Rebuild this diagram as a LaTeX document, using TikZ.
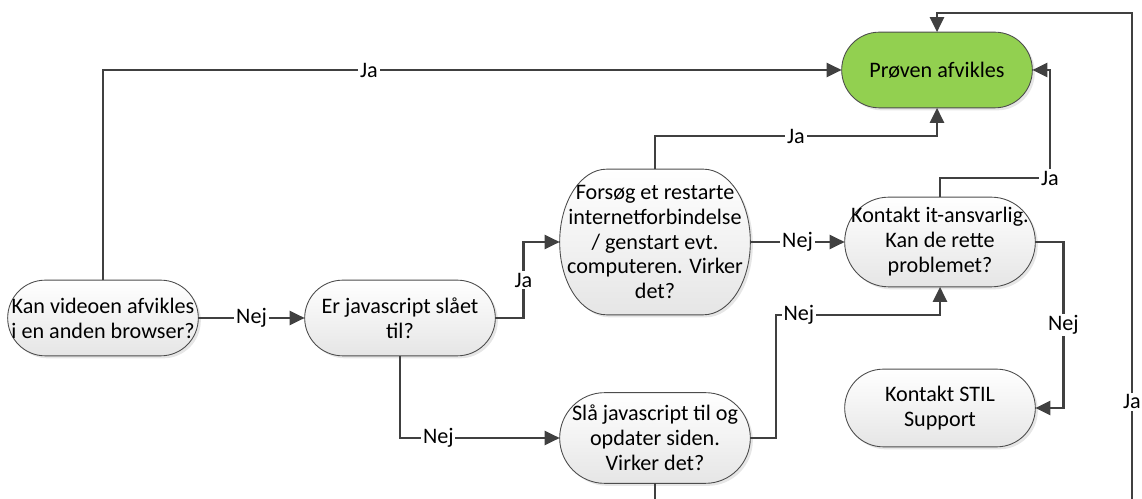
\documentclass[tikz,border=0pt]{standalone}
\usepackage{fontspec}
\setmainfont{Carlito}
\usepackage{xcolor}
\usetikzlibrary{positioning}
\usetikzlibrary{arrows.meta,shadows,calc}
\definecolor{passgreen}{RGB}{146,208,80}
\definecolor{linegray}{RGB}{64,64,64}
\pgfdeclarelayer{background}
\pgfsetlayers{background,main}

% outline of a terminator box behind node #2, end bulge #3
\newcommand{\terminator}[3][]{%
  \path[termbg,#1] let \p1=(#2.north), \p2=(#2.south) in
    ([xshift=#3]#2.north west) -- ([xshift=-#3]#2.north east)
    arc[start angle=90, end angle=-90, x radius=#3, y radius={(\y1-\y2)/2}]
    -- ([xshift=#3]#2.south west)
    arc[start angle=270, end angle=90, x radius=#3, y radius={(\y1-\y2)/2}]
    -- cycle;}

\begin{document}
\begin{tikzpicture}
[x=0.02cm, y=-0.02cm, >={Triangle[length=0.3cm,width=0.28cm]},
 term/.style={rectangle, minimum width=3.8cm, minimum height=1.5cm, inner sep=0pt,
   align=center, font=\fontsize{12.6}{14.2}\selectfont},
 termbg/.style={draw=black!70, line width=0.5pt, top color=white, bottom color=black!10,
   drop shadow={shadow xshift=0.05cm, shadow yshift=-0.05cm, opacity=0.2}},
 flow/.style={draw=linegray, line width=0.05cm, ->},
 lbl/.style={fill=white, inner sep=1pt, font=\fontsize{12.6}{14.2}\selectfont}]

\useasboundingbox (0,0) rectangle (1142,499);

% Boxes:
\node[term] (browser) at (103,318) {Kan videoen afvikles\\i en anden browser?};
\node[term] (js)      at (400,318) {Er javascript slået\\til?};
\node[term, minimum height=2.9cm]
  (restart) at (655,242) {Forsøg et restarte\\internetforbindelse\\/ genstart evt.\\computeren. Virker\\det?};
\node[term, minimum height=1.78cm]
  (itans)   at (940,242) {Kontakt it-ansvarlig.\\Kan de rette\\problemet?};
\node[term] (done) at (937,70)  {Prøven afvikles};
\node[term, minimum height=1.8cm] (slaa) at (655,438) {Slå javascript til og\\opdater siden.\\Virker det?};
\node[term, minimum height=1.54cm] (stil) at (940,408) {Kontakt STIL\\Support};

% Box outlines:
\begin{pgfonlayer}{background}
\foreach \nd/\bg in {browser/0.75cm, js/0.76cm, restart/0.94cm, itans/0.88cm, slaa/0.9cm, stil/0.77cm}
  \terminator{\nd}{\bg};
\terminator[top color=passgreen, bottom color=passgreen]{done}{0.75cm};
\end{pgfonlayer}

% Bends and loose ends:
\coordinate (nejbend)  at (776,315);
\coordinate (jabend)   at (1050,178);
\coordinate (jaentry)  at (1132,499);
\coordinate (slaaexit) at (655,499);

% Connectors:
\draw[flow] (browser) -- node[lbl]{Nej} (js);
\draw[flow] (browser.north) |- node[lbl,pos=0.68]{Ja} (done.west);
\draw[flow] (js.east) -- ++(28,0) |- node[lbl,pos=0.25]{Ja} (restart.west);
\draw[flow] (js.south) |- node[lbl,pos=0.62]{Nej} (slaa.west);
\draw[flow] (restart.north) -- ++(0,-33) -| node[lbl,pos=0.25]{Ja} (done.south);
\draw[flow] (restart) -- node[lbl]{Nej} (itans);
\draw[flow] (slaa.east) -| (nejbend) -| node[lbl,pos=0.07]{Nej} (itans.south);
\draw[flow] (itans.north) |- (jabend) node[lbl]{Ja} |- (done.east);
\draw[flow] (itans.east) -- ++(28,0) |- node[lbl,pos=0.25]{Nej} (stil.east);
\draw[flow] (jaentry) |- node[lbl,pos=0.1]{Ja} ([yshift=0.38cm]done.north) -- (done.north);
\draw[draw=linegray, line width=0.05cm] (slaa.south) -- (slaaexit);

\end{tikzpicture}
\end{document}
